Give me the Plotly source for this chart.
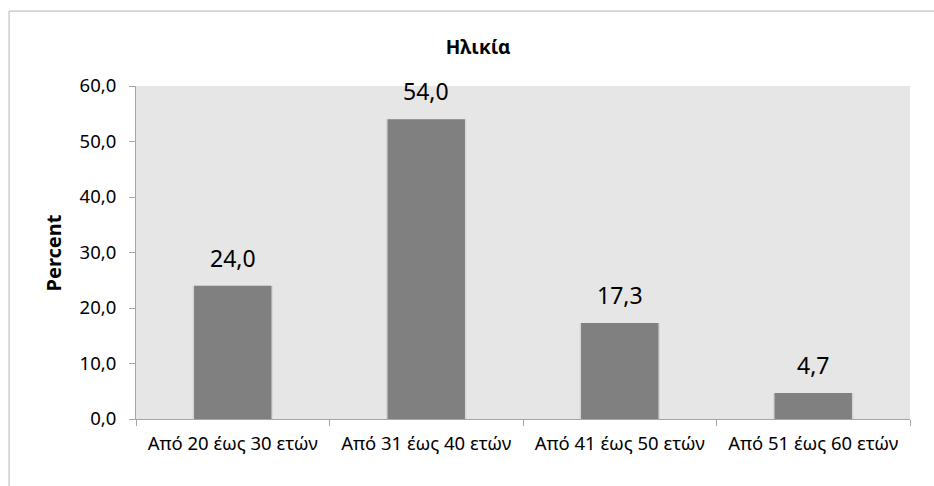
import plotly.graph_objects as go

# Age groups and their share of respondents (%)
categories = ["Από 20 έως 30 ετών", "Από 31 έως 40 ετών", "Από 41 έως 50 ετών", "Από 51 έως 60 ετών"]
percent = [24.0, 54.0, 17.3, 4.7]
y_ticks = [0, 10, 20, 30, 40, 50, 60]

FONT = "Noto Sans"
AXIS_GREY = "#a6a6a6"

fig = go.Figure()

# soft drop shadow behind each bar
fig.add_trace(go.Bar(
    x=categories, y=percent, width=0.415,
    marker=dict(color="rgba(0,0,0,0.07)", line=dict(width=0)),
    hoverinfo="skip", showlegend=False,
))
fig.add_trace(go.Bar(
    x=categories, y=percent, width=0.4,
    marker=dict(color="#808080", line=dict(width=0)),
    showlegend=False,
))

# value labels above the bars
for c, v in zip(categories, percent):
    fig.add_annotation(
        x=c, y=v, xref="x", yref="y",
        text=f"{v:.1f}".replace(".", ","),
        showarrow=False, yanchor="middle", yshift=28,
        font=dict(family=FONT, size=23, color="#000000"),
    )

# vertical axis title
fig.add_annotation(
    x=-0.106, y=0.5, xref="paper", yref="paper",
    text="<b>Percent</b>", textangle=-90, showarrow=False,
    xanchor="center", yanchor="middle",
    font=dict(family=FONT, size=20, color="#000000"),
)

# chart frame
fig.add_shape(
    type="rect", xref="paper", yref="paper",
    x0=-0.164, x1=1.2, y0=-0.4, y1=1.225,
    line=dict(color="#b3b3b3", width=1), fillcolor="rgba(0,0,0,0)",
    layer="below",
)

fig.update_layout(
    width=934, height=486,
    margin=dict(l=136, r=24, t=86, b=67),
    paper_bgcolor="white",
    plot_bgcolor="#e6e6e6",
    separators=",.",
    barmode="overlay",
    title=dict(
        text="<b>Ηλικία</b>", xref="paper", x=0.442, xanchor="center",
        yref="container", y=1 - 47 / 486, yanchor="middle",
        font=dict(family=FONT, size=19, color="#000000"),
    ),
    font=dict(family=FONT, color="#000000"),
)

fig.update_yaxes(
    range=[0, 60], tickvals=y_ticks, tickformat=".1f",
    showgrid=False, zeroline=False,
    showline=True, linecolor=AXIS_GREY, linewidth=1,
    ticks="outside", ticklen=6, tickcolor=AXIS_GREY, ticklabelstandoff=9,
    tickfont=dict(family=FONT, size=18.5, color="#000000"),
)
fig.update_xaxes(
    showgrid=False, showline=True, linecolor=AXIS_GREY, linewidth=1,
    ticks="outside", ticklen=6, tickcolor=AXIS_GREY, tickson="boundaries",
    ticklabelstandoff=8,
    tickfont=dict(family=FONT, size=18.5, color="#000000"),
)

fig.write_html("out.html")
